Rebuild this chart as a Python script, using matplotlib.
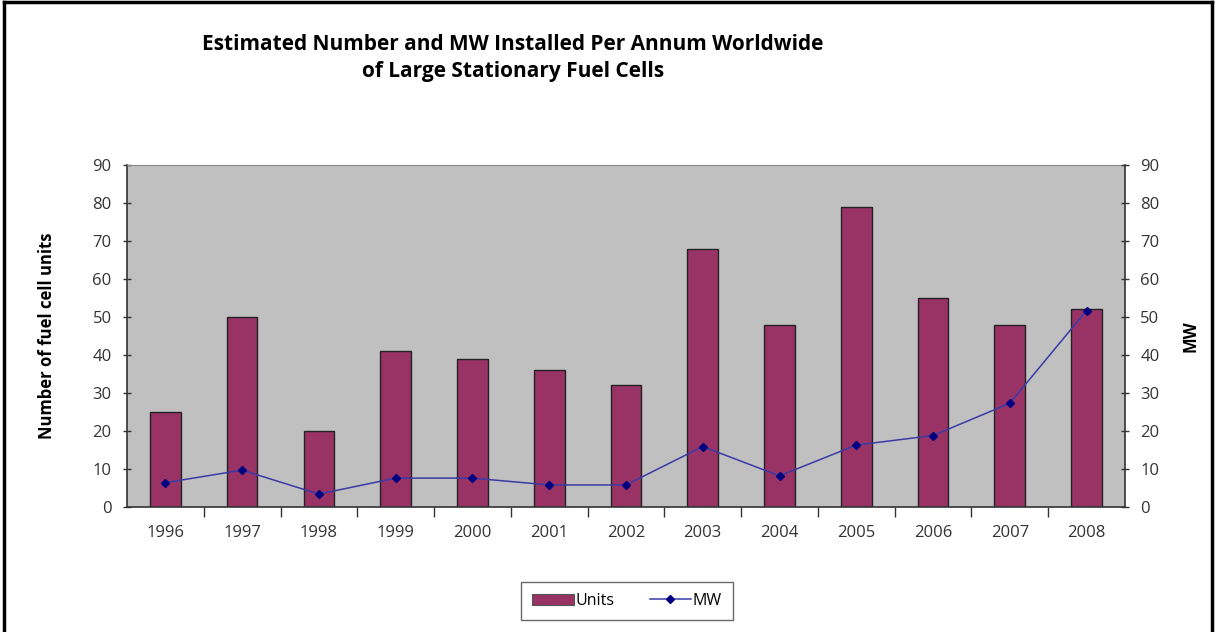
import numpy as np
import matplotlib
matplotlib.use("Agg")
import matplotlib.pyplot as plt
from matplotlib.lines import Line2D

years = ["1996", "1997", "1998", "1999", "2000", "2001", "2002",
         "2003", "2004", "2005", "2006", "2007", "2008"]
units = [25, 50, 20, 41, 39, 36, 32, 68, 48, 79, 55, 48, 52]
mw = [6.4, 9.7, 3.4, 7.6, 7.6, 5.8, 5.8, 15.9, 8.2, 16.3, 18.8, 27.3, 51.7]

title = "Estimated Number and MW Installed Per Annum Worldwide\nof Large Stationary Fuel Cells"
left_label = "Number of fuel cell units"
right_label = "MW"

plt.rcParams["font.family"] = ["Open Sans", "DejaVu Sans"]
tick_font = ["Open Sans", "DejaVu Sans"]

BAR = "#993366"
LINE = "#000080"
LINE_SOFT = "#3a3aa8"
PLOT_BG = "#C0C0C0"
TICK_TXT = "#333333"

fig = plt.figure(figsize=(12.15, 6.32), dpi=100)
ax = fig.add_axes([0.1045, 0.1978, 0.8214, 0.5411])
ax.set_facecolor(PLOT_BG)

x = np.arange(len(years))
ax.bar(x, units, width=0.4, color=BAR, edgecolor="#222222",
       linewidth=1.0, zorder=2, label="Units")
ax.set_xlim(-0.5, len(years) - 0.5)
ax.set_ylim(0, 90)
ax.set_yticks(np.arange(0, 91, 10))
ax.set_xticks(x)
ax.set_xticklabels(years, family=tick_font, fontsize=12, color=TICK_TXT)
ax.set_xticks(np.arange(0.5, len(years) - 1, 1.0), minor=True)
ax.tick_params(axis="x", which="major", length=0, pad=13)
ax.tick_params(axis="x", which="minor", length=7, direction="out",
               color="#333333", width=1)
ax.tick_params(axis="y", length=6, direction="inout", color="#333333",
               width=1, pad=8)
for lbl in ax.get_yticklabels():
    lbl.set_family(tick_font)
    lbl.set_fontsize(12)
    lbl.set_color(TICK_TXT)

for side in ("left", "bottom"):
    ax.spines[side].set_color("#333333")
    ax.spines[side].set_linewidth(1.2)
ax.spines["top"].set_color("#888888")
ax.spines["right"].set_visible(False)

ax.set_ylabel(left_label, fontsize=12, fontweight="bold", labelpad=26)

# secondary axis for MW
ax2 = ax.twinx()
ax2.set_ylim(0, 90)
ax2.set_yticks(np.arange(0, 91, 10))
ax2.tick_params(axis="y", length=6, direction="inout", color="#333333",
                width=1, pad=8)
for lbl in ax2.get_yticklabels():
    lbl.set_family(tick_font)
    lbl.set_fontsize(12)
    lbl.set_color(TICK_TXT)
for side in ("left", "top", "bottom"):
    ax2.spines[side].set_visible(False)
ax2.spines["right"].set_color("#333333")
ax2.spines["right"].set_linewidth(1.2)
ax2.set_ylabel(right_label, fontsize=12, fontweight="bold", labelpad=16,
               rotation=90)

ax2.plot(x, mw, color=LINE_SOFT, linewidth=1.1, zorder=3)
ax2.plot(x, mw, linestyle="none", marker="D", markersize=4.5,
         color=LINE, zorder=4)

# legend
handles = [
    plt.Rectangle((0, 0), 1, 1, facecolor=BAR, edgecolor="#555555", linewidth=0.8),
    Line2D([], [], color=LINE_SOFT, linewidth=1.1, marker="D",
           markersize=4.5, markerfacecolor=LINE, markeredgecolor=LINE),
]
leg = fig.legend(handles, ["Units", "MW"], loc="center",
                 bbox_to_anchor=(627 / 1215, 1 - 601 / 632), ncol=2,
                 frameon=True, fancybox=False, edgecolor="#444444",
                 prop={"family": tick_font, "size": 11.5},
                 handlelength=2.6, handletextpad=0.1, columnspacing=2.2,
                 borderpad=0.7)
leg.get_frame().set_linewidth(1.0)

fig.text(513 / 1215, 1 - 58 / 632, title, ha="center", va="center",
         fontsize=15, fontweight="bold", linespacing=1.4)

# outer frame (left, top, right)
for xs, ys in (([0.003, 0.003], [0, 0.997]),
               ([0.003, 0.9975], [0.997, 0.997]),
               ([0.9975, 0.9975], [0, 0.997])):
    fig.add_artist(Line2D(xs, ys, transform=fig.transFigure,
                          color="black", linewidth=2.5))

fig.savefig("out.png", dpi=100, facecolor="white")
